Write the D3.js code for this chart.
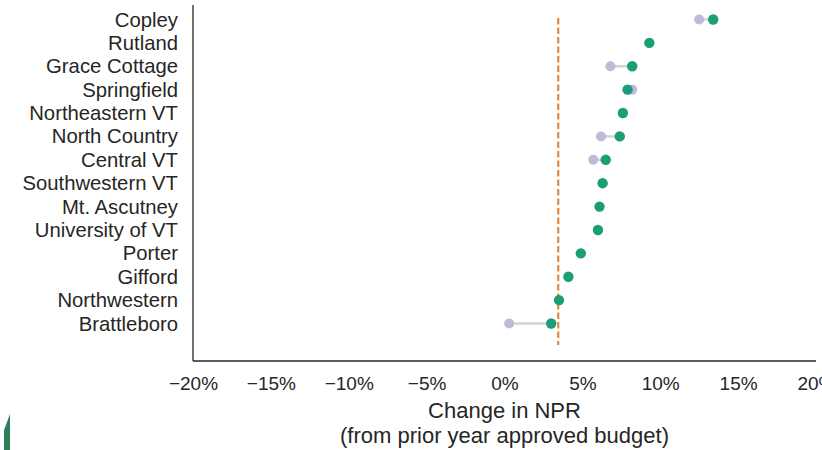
<!DOCTYPE html>
<html>
<head>
<meta charset="utf-8">
<script src="https://cdn.jsdelivr.net/npm/d3@7"></script>
<style>
  html, body { margin: 0; padding: 0; background: #fff; }
  svg { display: block; font-family: "Liberation Sans", Arial, sans-serif; }
</style>
</head>
<body>
<svg id="chart" width="822" height="450"></svg>
<script>
// ---- data ----
const hospitals = ["Copley", "Rutland", "Grace Cottage", "Springfield", "Northeastern VT",
  "North Country", "Central VT", "Southwestern VT", "Mt. Ascutney", "University of VT",
  "Porter", "Gifford", "Northwestern", "Brattleboro"];
// prior value (light purple); null = not shown
const priorValues = [0.125, null, 0.068, 0.082, null, 0.062, 0.057, null, null, null, null, null, null, 0.003];
// current value (green)
const currentValues = [0.134, 0.093, 0.082, 0.079, 0.076, 0.074, 0.065, 0.063, 0.061, 0.060, 0.049, 0.041, 0.035, 0.030];
const referenceValue = 0.0345;
const xTicks = [-0.20, -0.15, -0.10, -0.05, 0, 0.05, 0.10, 0.15, 0.20];
const xTitle = ["Change in NPR", "(from prior year approved budget)"];

// ---- layout ----
const svg = d3.select("#chart");
const mLeft = 193, mRight = 816, mTop = 5, mBottom = 361;

const x = d3.scaleLinear().domain([-0.2, 0.2]).range([mLeft, mRight]);
const y = d3.scaleLinear().domain([0, hospitals.length - 1]).range([19.5, 323.5]);

// reference dashed line
svg.append("line")
  .attr("x1", x(referenceValue)).attr("x2", x(referenceValue))
  .attr("y1", 18).attr("y2", 345)
  .attr("stroke", "#e2893f").attr("stroke-width", 2.2)
  .attr("stroke-dasharray", "6.5,3");

// connectors
const rows = hospitals.map((h, i) => ({h, i, p: priorValues[i], c: currentValues[i]}));
svg.append("g").selectAll("line").data(rows.filter(d => d.p !== null)).join("line")
  .attr("x1", d => x(d.p)).attr("x2", d => x(d.c))
  .attr("y1", d => y(d.i)).attr("y2", d => y(d.i))
  .attr("stroke", "#d4d4d4").attr("stroke-width", 2.5);

// prior dots
svg.append("g").selectAll("circle").data(rows.filter(d => d.p !== null)).join("circle")
  .attr("cx", d => x(d.p)).attr("cy", d => y(d.i)).attr("r", 5)
  .attr("fill", "#bdbadb");

// current dots
svg.append("g").selectAll("circle").data(rows).join("circle")
  .attr("cx", d => x(d.c)).attr("cy", d => y(d.i)).attr("r", 5.2)
  .attr("fill", "#1b9e77");

const textColor = "#262626";
const font = "'Liberation Sans', Arial, sans-serif";

// y axis
const yAxis = d3.axisLeft(y).tickValues(d3.range(hospitals.length))
  .tickFormat(i => hospitals[i]).tickSize(0).tickPadding(15);
const gy = svg.append("g").attr("transform", `translate(${mLeft},0)`).call(yAxis);
gy.select(".domain").remove();
gy.selectAll("text").attr("font-size", 20.3).attr("fill", textColor).attr("font-family", font);
svg.append("line").attr("x1", mLeft).attr("x2", mLeft).attr("y1", mTop).attr("y2", mBottom)
  .attr("stroke", textColor).attr("stroke-width", 1.3);

// x axis
const xAxis = d3.axisBottom(x).tickValues(xTicks)
  .tickFormat(v => (v < 0 ? "\u2212" : "") + Math.round(Math.abs(v) * 100) + "%")
  .tickSize(0).tickPadding(16);
const gx = svg.append("g").attr("transform", `translate(0,${mBottom})`).call(xAxis);
gx.select(".domain").remove();
gx.selectAll("text").attr("font-size", 19).attr("fill", textColor).attr("font-family", font);
svg.append("line").attr("x1", mLeft).attr("x2", mRight).attr("y1", mBottom).attr("y2", mBottom)
  .attr("stroke", textColor).attr("stroke-width", 1.3);

// x title
svg.append("text").attr("x", x(0)).attr("y", 418).attr("text-anchor", "middle")
  .attr("font-size", 22).attr("fill", textColor).attr("font-family", font).text(xTitle[0]);
svg.append("text").attr("x", x(0)).attr("y", 443).attr("text-anchor", "middle")
  .attr("font-size", 22).attr("fill", textColor).attr("font-family", font).text(xTitle[1]);

// stray green fragment at bottom-left edge
svg.append("path").attr("d", "M4,450 L4,430 L7,422 L10,414 L10,450 Z").attr("fill", "#2e7d5b");
</script>
</body>
</html>
